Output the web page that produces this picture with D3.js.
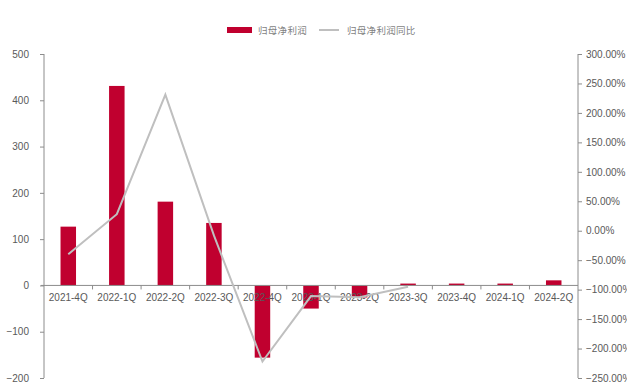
<!DOCTYPE html>
<html>
<head>
<meta charset="utf-8">
<script src="https://cdn.jsdelivr.net/npm/d3@7/dist/d3.min.js"></script>
<style>
  html, body { margin: 0; padding: 0; background: #fff; overflow: hidden; }
  svg { display: block; }
</style>
</head>
<body>
<div id="chart"></div>
<script>
// Quarterly attributable net profit (bars, left axis) and its YoY change (line, right axis)
const quarters = ["2021-4Q","2022-1Q","2022-2Q","2022-3Q","2022-4Q","2023-1Q","2023-2Q","2023-3Q","2023-4Q","2024-1Q","2024-2Q"];
const netProfit = [127, 431, 181, 135, -156, -50, -26, 4, 4, 4, 11];
const yoyPct = [-40, 28, 231, -8, -222, -111, -113, -95, null, null, null];
const leftTicks = [-200, -100, 0, 100, 200, 300, 400, 500];
const rightTicks = [-250, -200, -150, -100, -50, 0, 50, 100, 150, 200, 250, 300];
const seriesNames = ["归母净利润", "归母净利润同比"];

const W = 627, H = 382;
const m = { left: 44, right: 49, top: 54, bottom: 4 };
const barColor = "#C0002F", lineColor = "#BFBFBF", axisColor = "#8C8C8C", textColor = "#595959";
const labelFont = "'Liberation Sans', Arial, sans-serif";

const svg = d3.select("#chart").append("svg").attr("width", W).attr("height", H);

const x = d3.scaleBand().domain(quarters).range([m.left, W - m.right]).paddingInner(0).paddingOuter(0);
const yL = d3.scaleLinear().domain([-200, 500]).range([H - m.bottom, m.top]);
const yR = d3.scaleLinear().domain([-250, 300]).range([H - m.bottom, m.top]);

const barW = 15.5;

// bars
svg.append("g").selectAll("rect").data(quarters).join("rect")
  .attr("x", d => x(d) + x.bandwidth() / 2 - barW / 2)
  .attr("width", barW)
  .attr("y", (d, i) => yL(Math.max(0, netProfit[i])))
  .attr("height", (d, i) => Math.abs(yL(netProfit[i]) - yL(0)))
  .attr("fill", barColor);

// left axis
const gL = svg.append("g").attr("transform", `translate(${m.left},0)`)
  .call(d3.axisLeft(yL).tickValues(leftTicks).tickSize(4).tickPadding(11).tickFormat(d3.format("d")));
// right axis
const gR = svg.append("g").attr("transform", `translate(${W - m.right},0)`)
  .call(d3.axisRight(yR).tickValues(rightTicks).tickSize(4).tickPadding(4).tickFormat(d => d3.format(".2f")(d) + "%"));

[gL, gR].forEach(g => {
  g.select(".domain").attr("stroke", axisColor).attr("d", g === gL
    ? `M0,${yL(-200)}V${yL(500)}`
    : `M0,${yR(-250)}V${yR(300)}`);
  g.selectAll(".tick line").attr("stroke", axisColor);
  g.selectAll(".tick text").attr("fill", textColor)
    .style("font-family", labelFont).style("font-size", "10px");
});

// category axis along zero
const gX = svg.append("g").attr("transform", `translate(0,${yL(0)})`);
gX.append("line").attr("x1", m.left - 3).attr("x2", W - m.right).attr("stroke", axisColor);
gX.selectAll("line.tk").data(d3.range(1, quarters.length)).join("line").attr("class", "tk")
  .attr("x1", i => m.left + i * x.bandwidth()).attr("x2", i => m.left + i * x.bandwidth())
  .attr("y1", 0).attr("y2", 4).attr("stroke", axisColor);
gX.selectAll("text").data(quarters).join("text")
  .attr("x", d => x(d) + x.bandwidth() / 2).attr("y", 16)
  .attr("text-anchor", "middle").attr("fill", textColor)
  .style("font-family", labelFont).style("font-size", "10px")
  .text(d => d);

// YoY line
const line = d3.line()
  .defined(d => d[1] !== null)
  .x(d => x(d[0]) + x.bandwidth() / 2)
  .y(d => yR(d[1]));
svg.append("path").datum(quarters.map((q, i) => [q, yoyPct[i]]))
  .attr("d", line).attr("fill", "none").attr("stroke", lineColor).attr("stroke-width", 2);

// legend
const lg = svg.append("g").style("font-family", "'Noto Sans CJK SC', sans-serif").style("font-size", "9.5px");
lg.append("rect").attr("x", 227).attr("y", 27).attr("width", 25).attr("height", 6).attr("fill", barColor);
lg.append("text").attr("x", 258).attr("y", 33.5).attr("fill", "#7F7F7F").attr("letter-spacing", 0.3).text(seriesNames[0]);
lg.append("line").attr("x1", 319).attr("x2", 339).attr("y1", 30).attr("y2", 30).attr("stroke", lineColor).attr("stroke-width", 2);
lg.append("text").attr("x", 347).attr("y", 33.5).attr("fill", "#7F7F7F").attr("letter-spacing", 0.3).text(seriesNames[1]);
</script>
</body>
</html>
